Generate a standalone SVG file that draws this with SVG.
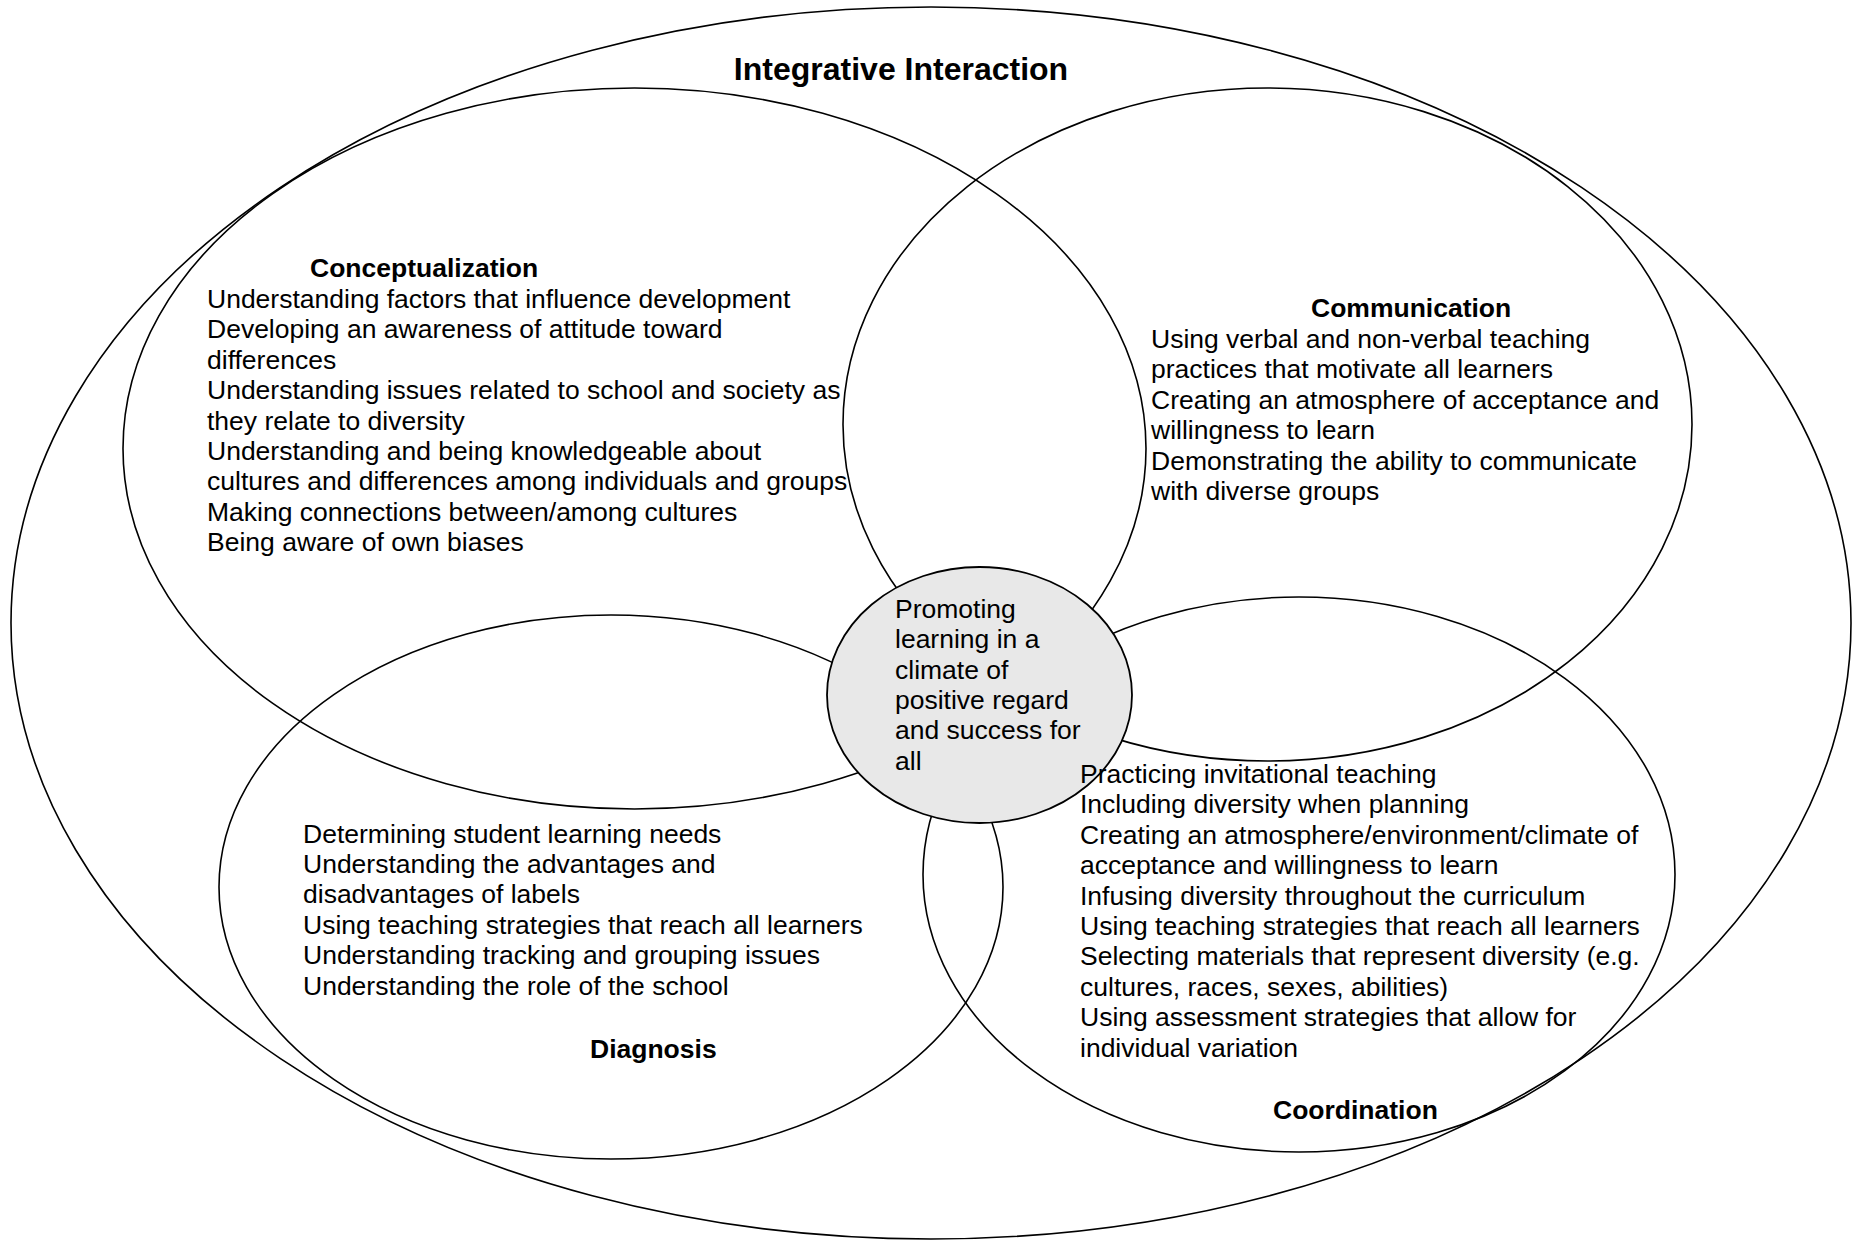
<svg xmlns="http://www.w3.org/2000/svg" width="1855" height="1244" viewBox="0 0 1855 1244">
<style>
.ring{fill:none;stroke:#000;stroke-width:1.6}
.core{fill:#e8e8e8;stroke:#000;stroke-width:1.8}
text{font-family:"Liberation Sans",Arial,sans-serif;font-size:26.5px;fill:#000}
.h{font-weight:bold}
.title{font-weight:bold;font-size:32px}
</style>
<rect width="1855" height="1244" fill="#fff"/>
<g id="integrative-interaction">
<ellipse class="ring" cx="931" cy="623" rx="920" ry="616"/>
<text class="title" x="901" y="80" text-anchor="middle">Integrative Interaction</text>
</g>
<g id="conceptualization">
<ellipse class="ring" cx="634.5" cy="448.5" rx="511.5" ry="360.5"/>
<text class="h" x="310" y="277">Conceptualization</text>
<text x="207" y="308"><tspan x="207">Understanding factors that influence development</tspan><tspan x="207" dy="30.4">Developing an awareness of attitude toward</tspan><tspan x="207" dy="30.4">differences</tspan><tspan x="207" dy="30.4">Understanding issues related to school and society as</tspan><tspan x="207" dy="30.4">they relate to diversity</tspan><tspan x="207" dy="30.4">Understanding and being knowledgeable about</tspan><tspan x="207" dy="30.4">cultures and differences among individuals and groups</tspan><tspan x="207" dy="30.4">Making connections between/among cultures</tspan><tspan x="207" dy="30.4">Being aware of own biases</tspan></text>
</g>
<g id="communication">
<ellipse class="ring" cx="1267.5" cy="424.5" rx="424.5" ry="336.5"/>
<text class="h" x="1311" y="317">Communication</text>
<text x="1151" y="348"><tspan x="1151">Using verbal and non-verbal teaching</tspan><tspan x="1151" dy="30.4">practices that motivate all learners</tspan><tspan x="1151" dy="30.4">Creating an atmosphere of acceptance and</tspan><tspan x="1151" dy="30.4">willingness to learn</tspan><tspan x="1151" dy="30.4">Demonstrating the ability to communicate</tspan><tspan x="1151" dy="30.4">with diverse groups</tspan></text>
</g>
<g id="diagnosis">
<ellipse class="ring" cx="611" cy="887" rx="392" ry="272"/>
<text x="303" y="842.5"><tspan x="303">Determining student learning needs</tspan><tspan x="303" dy="30.4">Understanding the advantages and</tspan><tspan x="303" dy="30.4">disadvantages of labels</tspan><tspan x="303" dy="30.4">Using teaching strategies that reach all learners</tspan><tspan x="303" dy="30.4">Understanding tracking and grouping issues</tspan><tspan x="303" dy="30.4">Understanding the role of the school</tspan></text>
<text class="h" x="590" y="1058">Diagnosis</text>
</g>
<g id="coordination">
<ellipse class="ring" cx="1299" cy="874.5" rx="376" ry="277.5"/>
</g>
<g id="center">
<ellipse class="core" cx="979.5" cy="695" rx="152.5" ry="128"/>
<text x="895" y="618"><tspan x="895">Promoting</tspan><tspan x="895" dy="30.3">learning in a</tspan><tspan x="895" dy="30.3">climate of</tspan><tspan x="895" dy="30.3">positive regard</tspan><tspan x="895" dy="30.3">and success for</tspan><tspan x="895" dy="30.3">all</tspan></text>
</g>
<g id="coordination-labels">
<text x="1080" y="783"><tspan x="1080">Practicing invitational teaching</tspan><tspan x="1080" dy="30.4">Including diversity when planning</tspan><tspan x="1080" dy="30.4">Creating an atmosphere/environment/climate of</tspan><tspan x="1080" dy="30.4">acceptance and willingness to learn</tspan><tspan x="1080" dy="30.4">Infusing diversity throughout the curriculum</tspan><tspan x="1080" dy="30.4">Using teaching strategies that reach all learners</tspan><tspan x="1080" dy="30.4">Selecting materials that represent diversity (e.g.</tspan><tspan x="1080" dy="30.4">cultures, races, sexes, abilities)</tspan><tspan x="1080" dy="30.4">Using assessment strategies that allow for</tspan><tspan x="1080" dy="30.4">individual variation</tspan></text>
<text class="h" x="1273" y="1119">Coordination</text>
</g>
</svg>
